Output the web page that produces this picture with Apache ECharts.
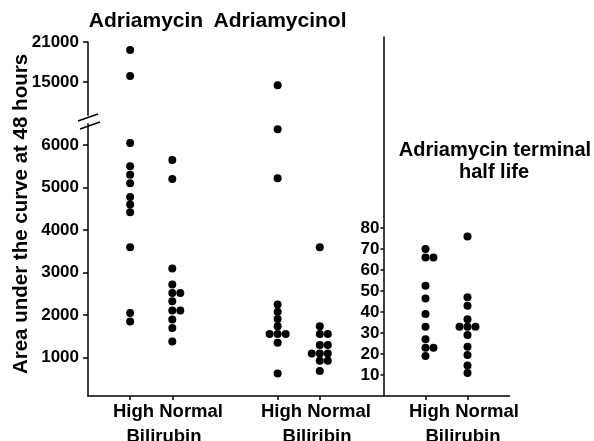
<!DOCTYPE html>
<html>
<head>
<meta charset="UTF-8">
<title>Adriamycin AUC and half life</title>
<script src="https://cdn.jsdelivr.net/npm/echarts@6/dist/echarts.min.js"></script>
<style>
html, body { margin: 0; background: #fff; }
#chart { width: 594px; height: 441px; }
</style>
</head>
<body>
<div id="chart"></div>
<script>
// area under the curve at 48 hours
var adriaHigh = [19800, 15900, 6050, 5500, 5300, 5100, 4780, 4600, 4420, 3600, 2050, 1850];
var adriaNormal = [5650, 5200, 3100, 2720, 2520, 2520, 2330, 2110, 2110, 1900, 1700, 1380];
var adriaolHigh = [14500, 6370, 5220, 2250, 2080, 1910, 1740, 1560, 1560, 1560, 1350, 630];
var adriaolNormal = [3600, 1740, 1560, 1560, 1300, 1300, 1100, 1100, 1100, 930, 930, 690];
// adriamycin terminal half life
var halfHigh = [70, 66, 66, 52.5, 46.5, 39, 33, 27, 23, 23, 19];
var halfNormal = [76, 47, 43, 36.5, 33, 33, 33, 29, 23.5, 19.5, 14.5, 11];

// tick labels
var aucTicksHigh = [15000, 21000];
var aucTicksLow = [1000, 2000, 3000, 4000, 5000, 6000];
var halfTicks = [10, 20, 30, 40, 50, 60, 70, 80];

var leftPos = [1, 2, 4.5, 5.5];   // column centres, left panel
var rightPos = [1, 2];            // column centres, right panel
var SPLIT = 8000;                 // above this the upper (broken) axis is used

// put equal values next to each other, like a dot plot
function swarm(vals, pos) {
  var counts = {}, seen = {};
  vals.forEach(function (v) { counts[v] = (counts[v] || 0) + 1; });
  return vals.map(function (v) {
    seen[v] = seen[v] === undefined ? 0 : seen[v] + 1;
    var off = seen[v] - Math.floor((counts[v] - 1) / 2);
    return [pos + off * 0.19, v];
  });
}

var dot = { type: 'scatter', symbolSize: 8, itemStyle: { color: '#000', opacity: 1 }, silent: true };
var series = [];
[adriaHigh, adriaNormal, adriaolHigh, adriaolNormal].forEach(function (g, k) {
  var pts = swarm(g, leftPos[k]);
  series.push(Object.assign({}, dot, { xAxisIndex: 0, yAxisIndex: 0,
    data: pts.filter(function (p) { return p[1] > SPLIT; }) }));
  series.push(Object.assign({}, dot, { xAxisIndex: 1, yAxisIndex: 1,
    data: pts.filter(function (p) { return p[1] <= SPLIT; }) }));
});
[halfHigh, halfNormal].forEach(function (g, k) {
  series.push(Object.assign({}, dot, { xAxisIndex: 2, yAxisIndex: 2, data: swarm(g, rightPos[k]) }));
});

var lineStyle = { color: '#000', width: 1.5 };
var numFont = { color: '#000', fontFamily: 'Liberation Sans', fontWeight: 'bold', fontSize: 17 };
var txt = { fill: '#000', fontFamily: 'Liberation Sans', fontWeight: 'bold', fontSize: 20,
  textAlign: 'center', textVerticalAlign: 'middle' };

function yAx(grid, min, max, ticks, margin, tickLen) {
  return {
    type: 'value', gridIndex: grid, min: min, max: max,
    axisLine: { show: true, onZero: false, lineStyle: lineStyle },
    axisTick: { show: true, length: tickLen, customValues: ticks, lineStyle: lineStyle },
    axisLabel: Object.assign({ customValues: ticks, margin: margin,
      formatter: function (v) { return String(v); } }, numFont),
    splitLine: { show: false }
  };
}
function xAx(grid, max, ticks, show) {
  return {
    type: 'value', gridIndex: grid, min: 0, max: max, show: show,
    axisLine: { show: true, onZero: false, lineStyle: lineStyle },
    axisTick: { show: true, length: 4, customValues: ticks, lineStyle: lineStyle },
    axisLabel: { show: false },
    splitLine: { show: false }
  };
}

var chart = echarts.init(document.getElementById('chart'));
chart.setOption({
  animation: false,
  backgroundColor: '#fff',
  grid: [
    { left: 88, top: 42, width: 295, height: 73.3 },
    { left: 88, top: 123.8, width: 295, height: 272.2 },
    { left: 383.5, top: 37, width: 126, height: 359 }
  ],
  xAxis: [xAx(0, 7, [], false), xAx(1, 7, leftPos, true), xAx(2, 3, rightPos, true)],
  yAxis: [
    yAx(0, 10000, 21000, aucTicksHigh, 9, 5),
    yAx(1, 100, 6500, aucTicksLow, 9, 5),
    yAx(2, 0, 171, halfTicks, 4, 3)
  ],
  series: series,
  graphic: [
    // axis break
    { type: 'line', shape: { x1: 78, y1: 121, x2: 98, y2: 114 }, style: { stroke: '#000', lineWidth: 1.5 } },
    { type: 'line', shape: { x1: 80, y1: 129, x2: 100, y2: 122 }, style: { stroke: '#000', lineWidth: 1.5 } },
    { type: 'text', x: 21, y: 214, rotation: Math.PI / 2,
      style: Object.assign({}, txt, { text: 'Area under the curve at 48 hours', fontSize: 20.5 }) },
    { type: 'text', x: 146, y: 21, style: Object.assign({}, txt, { text: 'Adriamycin', fontSize: 21 }) },
    { type: 'text', x: 280, y: 21, style: Object.assign({}, txt, { text: 'Adriamycinol', fontSize: 21 }) },
    { type: 'text', x: 495, y: 150, style: Object.assign({}, txt, { text: 'Adriamycin terminal' }) },
    { type: 'text', x: 494, y: 172, style: Object.assign({}, txt, { text: 'half life' }) },
    { type: 'text', x: 168, y: 412, style: Object.assign({}, txt, { text: 'High Normal', fontSize: 18.5 }) },
    { type: 'text', x: 164, y: 437, style: Object.assign({}, txt, { text: 'Bilirubin', fontSize: 18.5 }) },
    { type: 'text', x: 316, y: 412, style: Object.assign({}, txt, { text: 'High Normal', fontSize: 18.5 }) },
    { type: 'text', x: 317, y: 437, style: Object.assign({}, txt, { text: 'Biliribin', fontSize: 18.5 }) },
    { type: 'text', x: 464, y: 412, style: Object.assign({}, txt, { text: 'High Normal', fontSize: 18.5 }) },
    { type: 'text', x: 463, y: 437, style: Object.assign({}, txt, { text: 'Bilirubin', fontSize: 18.5 }) }
  ]
});
</script>
</body>
</html>
